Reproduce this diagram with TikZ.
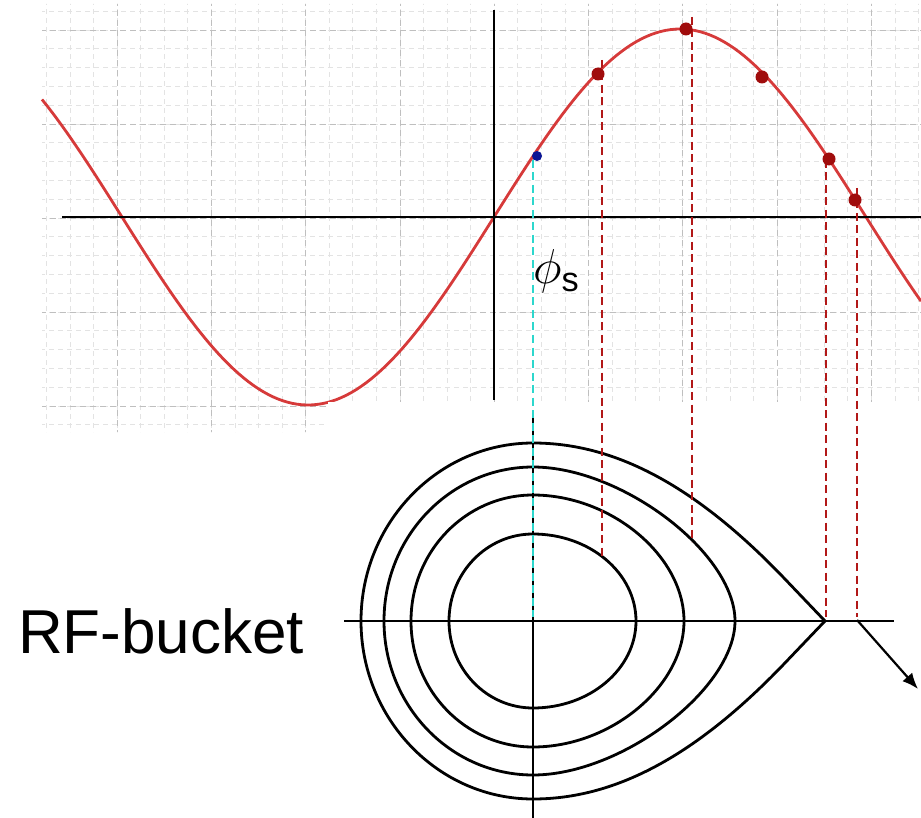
\RequirePackage{fix-cm}
\documentclass[tikz,border=0pt]{standalone}
\usepackage{amsmath}
\usepackage{fontspec}
\setmainfont{Liberation Sans}
\setsansfont{Liberation Sans}
\usepackage{tikz}
\usetikzlibrary{arrows.meta,positioning}

\definecolor{sinered}{RGB}{214,58,58}
\definecolor{dotred}{RGB}{160,12,12}
\definecolor{dashred}{RGB}{178,24,24}
\definecolor{phasecyan}{RGB}{45,215,205}
\definecolor{dotblue}{RGB}{12,22,150}

\begin{document}
\begin{tikzpicture}[x=1pt, y=-1pt,
    minorgrid/.style={gray!22, line width=0.7pt, dash pattern=on 5pt off 4pt},
    majorgrid/.style={gray!50, line width=0.8pt, dash pattern=on 6pt off 4pt},
    axis/.style={black, line width=2.2pt},
    thinaxis/.style={black, line width=1.6pt},
    orbit/.style={black, line width=2.8pt, line join=round},
    sineline/.style={sinered, line width=2.8pt},
    proj/.style={dashred, line width=2.1pt, dash pattern=on 8pt off 4.5pt},
    cyanproj/.style={phasecyan, line width=2.1pt, dash pattern=on 8pt off 4.5pt},
    reddot/.style={circle, fill=dotred, inner sep=0pt, minimum size=13pt},
    bluedot/.style={circle, fill=dotblue, inner sep=0pt, minimum size=10pt},
    lbl/.style={inner sep=0pt}]
    \useasboundingbox (0,0) rectangle (921,818);

    % grid behind the rf voltage
    \begin{scope}
        \clip (42,4) -- (921,4) -- (921,402) -- (328,402) -- (328,432) -- (42,432) -- cycle;
        \foreach \i in {-3,...,34} \draw[minorgrid] ({117+23.575*\i},0) -- ({117+23.575*\i},440);
        \foreach \j in {-1,...,22} \draw[minorgrid] (40,{30+18.8*\j}) -- (921,{30+18.8*\j});
        \foreach \i in {-1,...,8} \draw[majorgrid] ({117+94.3*\i},0) -- ({117+94.3*\i},440);
        \foreach \j in {0,...,4} \draw[majorgrid] (40,{30+94*\j}) -- (921,{30+94*\j});
    \end{scope}

    \draw[sineline] plot[domain=42:921, samples=180] (\x, {217-188*sin((\x-494)/744*360)});
    \fill[white] (328,402) rectangle (921,440);
    \draw[axis] (62,217) -- (921,217);
    \draw[axis] (494,10) -- (494,400);

    % phase space
    \draw[thinaxis] (344,621) -- (894,621);
    \draw[thinaxis] (533,415) -- (533,818);
    \begin{scope}[shift={(533,621)}]
        \foreach \rgt/\lft/\hgt/\kap in {103/84/87/0.552, 151/122/126/0.517, 202/149/154/0.44}
            \draw[orbit] (\rgt,0) .. controls (\rgt,{-\kap*\hgt}) and ({\kap*\rgt},-\hgt) .. (0,-\hgt)
                .. controls ({-0.552*\lft},-\hgt) and (-\lft,{-0.552*\hgt}) .. (-\lft,0)
                .. controls (-\lft,{0.552*\hgt}) and ({-0.552*\lft},\hgt) .. (0,\hgt)
                .. controls ({\kap*\rgt},\hgt) and (\rgt,{\kap*\hgt}) .. cycle;
        \draw[orbit] (292,0) -- (250,-44) .. controls (160,-137.6) and (80,-178) .. (0,-178)
            .. controls (-95,-178) and (-172,-98) .. (-172,0)
            .. controls (-172,98) and (-95,178) .. (0,178)
            .. controls (80,178) and (160,137.6) .. (250,44) -- cycle;
    \end{scope}

    % projections from the wave onto the bucket
    \coordinate (c0) at (533,160);
    \coordinate (c1) at (533,617);
    \draw[cyanproj] (c0) -- (c1);
    \foreach \x/\ya/\yb [count=\k] in {602/60/557, 692/17/542, 826/160/617, 857/188/617} {
        \coordinate (t\k) at (\x,\ya);
        \coordinate (b\k) at (\x,\yb);
        \draw[proj] (t\k) -- (b\k);
    }
    \foreach \x/\y [count=\k] in {598/74, 686/29, 762/77, 829/159, 855/200}
        \node[reddot] (p\k) at (\x,\y) {};
    \node[bluedot] (ps) at (537,156) {};

    \coordinate (a0) at (857,620);
    \coordinate (a1) at (918,689);
    \draw[-{Latex[length=16pt,width=13pt]}, line width=2.2pt] (a0) -- (a1);

    \node[lbl, font=\fontsize{62}{62}\selectfont, anchor=base] (bucket) at (161,653) {RF-bucket};
    \node[lbl, font=\fontsize{49}{49}\selectfont, anchor=base west] (phis) at (533,284) {$\phi_{\text{\sffamily s}}$};
\end{tikzpicture}
\end{document}
